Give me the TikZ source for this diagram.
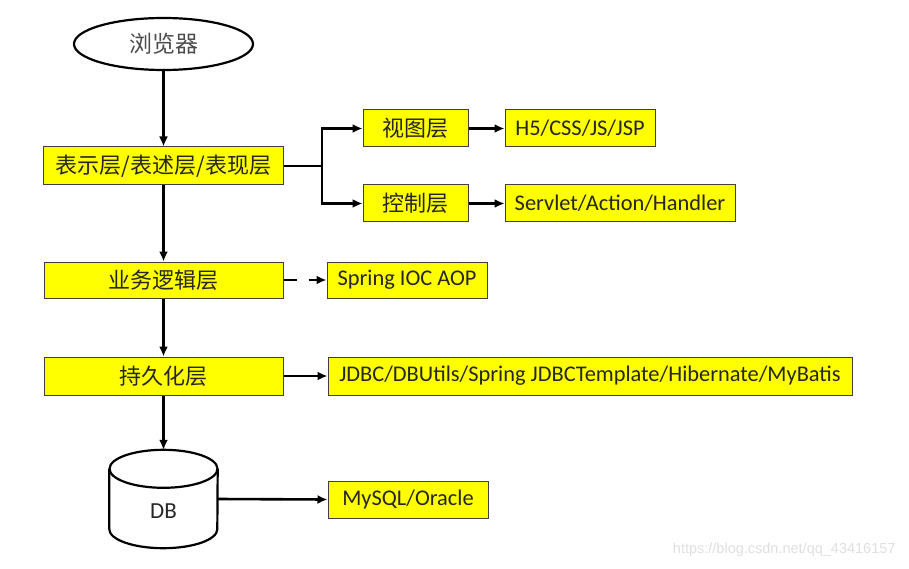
\documentclass[tikz,border=0pt]{standalone}
\usepackage{fontspec}
\setmainfont{Carlito}
\newfontfamily\cjk{Noto Sans CJK SC}
\newfontfamily\wmfont{Liberation Sans}
\usetikzlibrary{arrows.meta,shapes.geometric}
\definecolor{boxyellow}{HTML}{FFFF00}
\definecolor{boxedge}{HTML}{404040}
\definecolor{txt}{HTML}{262626}
\tikzset{
  layerbox/.style={draw=boxedge, fill=boxyellow, line width=1pt, inner sep=0pt,
    minimum height=37pt, text=txt, font=\fontsize{22.4pt}{26pt}\selectfont},
  cjkbox/.style={layerbox, font=\cjk\fontsize{22pt}{26pt}\selectfont},
  arr/.style={line width=2.6pt, -{Latex[length=10pt,width=9pt]}},
}
\begin{document}
\begin{tikzpicture}[x=1pt,y=-1pt]
\useasboundingbox[fill=white] (0,0) rectangle (909,569);

\node[ellipse, draw=black, line width=2.2pt, fill=white, minimum width=179pt, minimum height=52pt,
  inner sep=0pt, text=black!70, font=\cjk\fontsize{23pt}{26pt}\selectfont] (browser) at (163.5,44) {浏览器};

\node[cjkbox, minimum width=240pt, minimum height=38pt] (pres) at (163.5,166) {表示层/表述层/表现层};
\node[cjkbox, minimum width=105pt] (view) at (415.5,128.5) {视图层};
\node[cjkbox, minimum width=105pt] (ctrl) at (415.5,203.5) {控制层};
\node[layerbox, minimum width=150pt] (h5) at (580,128.5) {H5/CSS/JS/JSP};
\node[layerbox, minimum width=230pt] (servlet) at (620,203.5) {Servlet/Action/Handler};

\node[cjkbox, minimum width=239pt, minimum height=36pt] (biz) at (163.5,280) {业务逻辑层};
\node[layerbox, minimum width=160pt, minimum height=36pt] (spring) at (407,280) {Spring IOC AOP};

\node[cjkbox, minimum width=239pt, minimum height=38pt] (pers) at (163.5,376) {持久化层};
\node[layerbox, minimum width=524pt, minimum height=38pt] (jdbc) at (590,376) {JDBC/DBUtils/Spring JDBCTemplate/Hibernate/MyBatis};

% database cylinder
\node[minimum width=108pt, minimum height=98pt, inner sep=0pt] (db) at (163.5,499) {};
\draw[line width=2.2pt, fill=white] ([yshift=-19pt]db.north west) -- ([yshift=19pt]db.south west)
  arc[start angle=180, end angle=360, x radius=54pt, y radius=19pt] -- ([yshift=-19pt]db.north east);
\draw[line width=2.2pt] ([yshift=-19pt]db.north) ellipse[x radius=54pt, y radius=19pt];
\node[text=txt, font=\fontsize{23pt}{26pt}\selectfont] (dblabel) at (163.5,511) {DB};
\node[layerbox, minimum width=160pt] (mysql) at (408,499.5) {MySQL/Oracle};

% connectors
\coordinate (split) at (322,166);
\draw[arr] (browser.south) -- (pres.north);
\draw[arr] (pres.south) -- (biz.north);
\draw[arr] (biz.south) -- (pers.north);
\draw[arr] (pers.south) -- (db.north);
\draw[arr] (pres.east) -- (split) |- (view.west);
\draw[arr] (split) |- (ctrl.west);
\draw[arr] (view.east) -- (h5.west);
\draw[arr] (ctrl.east) -- (servlet.west);
\draw[arr, dash pattern=on 13pt off 12pt] (biz.east) -- (spring.west);
\draw[arr] (pers.east) -- (jdbc.west);
\draw[arr] (db.east) -- (mysql.west);

% watermark
\node[text=black!12, font=\wmfont\fontsize{14.5pt}{17pt}\selectfont, anchor=east] (wm) at (899,550) {https://blog.csdn.net/qq\_43416157};
\end{tikzpicture}
\end{document}
